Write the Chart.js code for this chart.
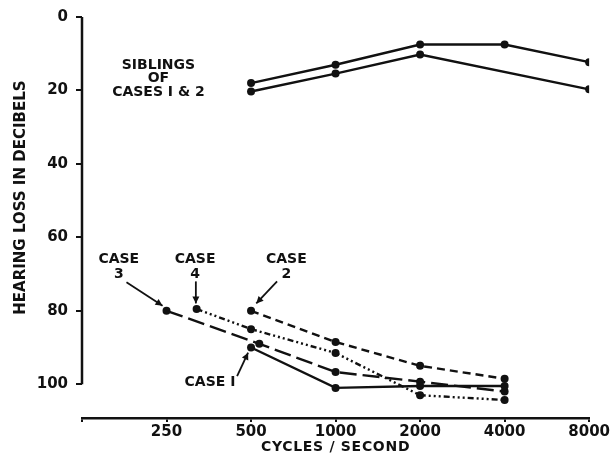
<!DOCTYPE html>
<html>
<head>
<meta charset="utf-8">
<script src="https://cdn.jsdelivr.net/npm/chart.js@4"></script>
<style>
html,body{margin:0;padding:0;background:#fff;}
#c{display:block;}
</style>
</head>
<body>
<canvas id="c" width="611" height="453"></canvas>
<script>
// ---- data ----
const freqTicks = [125, 250, 500, 1000, 2000, 4000, 8000];
const dbTicks = [0, 20, 40, 60, 80, 100];

const siblingUpperFreq = [500, 1000, 2000, 4000, 8000];
const siblingUpperDb   = [18, 13, 7.5, 7.5, 12.3];
const siblingLowerFreq = [500, 1000, 2000, 8000];
const siblingLowerDb   = [20.3, 15.4, 10.2, 19.7];

const case1Freq = [500, 1000, 2000, 4000];
const case1Db   = [90, 101, 100.5, 100.5];
const case2Freq = [500, 1000, 2000, 4000];
const case2Db   = [80, 88.5, 95, 98.5];
const case3Freq = [250, 535, 1000, 2000, 4000];
const case3Db   = [80, 89, 96.7, 99.3, 102];
const case4Freq = [320, 500, 1000, 2000, 4000];
const case4Db   = [79.5, 85, 91.5, 103, 104.3];

// annotation texts (positions in data units: freq, dB)
const xTitle = 'CYCLES / SECOND';
const yTitle = 'HEARING LOSS IN DECIBELS';
const siblingsText = ['SIBLINGS', 'OF', 'CASES I & 2'];
const siblingsAt = [234, [13.2, 16.8, 20.4]];
const caseLabels = [
  {lines: ['CASE', '3'], at: [169, 66], arrowFrom: [180, 72.2], arrowTo: [242, 78.6]},
  {lines: ['CASE', '4'], at: [316, 66], arrowFrom: [318, 72], arrowTo: [318, 78]},
  {lines: ['CASE', '2'], at: [668, 66], arrowFrom: [619, 72], arrowTo: [522, 78]},
  {lines: ['CASE I'], at: [357, 99.6], arrowFrom: [446, 97.8], arrowTo: [488, 91.4]}
];

const FONT = '"DejaVu Sans", "Liberation Sans", sans-serif';
const INK = '#111';

function pts(fs, ds) { return fs.map((f, i) => ({x: f, y: ds[i]})); }
function ds(label, fs, vals, dash) {
  return {
    label, data: pts(fs, vals), borderColor: INK, backgroundColor: INK,
    borderWidth: 2.4, borderDash: dash, pointRadius: 4, pointBackgroundColor: INK,
    pointBorderWidth: 0, tension: 0, fill: false
  };
}

function arrow(ctx, x1, y1, x2, y2) {
  ctx.beginPath(); ctx.moveTo(x1, y1); ctx.lineTo(x2, y2); ctx.stroke();
  const a = Math.atan2(y2 - y1, x2 - x1), L = 7, W = 3.5;
  ctx.beginPath();
  ctx.moveTo(x2, y2);
  ctx.lineTo(x2 - L * Math.cos(a) + W * Math.sin(a), y2 - L * Math.sin(a) - W * Math.cos(a));
  ctx.lineTo(x2 - L * Math.cos(a) - W * Math.sin(a), y2 - L * Math.sin(a) + W * Math.cos(a));
  ctx.closePath(); ctx.fill();
}

const deco = {
  id: 'deco',
  afterDraw(chart) {
    const {ctx, scales: {x, y}, chartArea} = chart;
    ctx.save();
    ctx.strokeStyle = INK; ctx.fillStyle = INK; ctx.lineWidth = 2.5;
    // vertical axis line from 0 to 100 dB
    ctx.beginPath();
    ctx.moveTo(chartArea.left, y.getPixelForValue(dbTicks[0]));
    ctx.lineTo(chartArea.left, y.getPixelForValue(dbTicks[dbTicks.length - 1]));
    ctx.stroke();
    ctx.textAlign = 'center'; ctx.textBaseline = 'middle';
    // y title
    ctx.save();
    ctx.translate(21, (y.getPixelForValue(0) + y.getPixelForValue(100)) / 2 - 3);
    ctx.rotate(-Math.PI / 2);
    ctx.font = 'bold 15px ' + FONT;
    ctx.fillText(yTitle, 0, 0);
    ctx.restore();
    // x title
    ctx.save();
    ctx.font = 'bold 14px ' + FONT;
    try { ctx.letterSpacing = '0.7px'; } catch (e) {}
    ctx.fillText(xTitle, (chartArea.left + chartArea.right) / 2, 447);
    ctx.restore();
    // siblings text
    ctx.font = 'bold 14px ' + FONT;
    const sx = x.getPixelForValue(siblingsAt[0]);
    siblingsAt[1].forEach((d, i) => ctx.fillText(siblingsText[i], sx, y.getPixelForValue(d)));
    // case labels and arrows
    ctx.font = 'bold 14px ' + FONT;
    ctx.lineWidth = 1.8;
    caseLabels.forEach(c => {
      const cx = x.getPixelForValue(c.at[0]);
      c.lines.forEach((t, i) => ctx.fillText(t, cx, y.getPixelForValue(c.at[1]) + i * 15));
      arrow(ctx, x.getPixelForValue(c.arrowFrom[0]), y.getPixelForValue(c.arrowFrom[1]),
                 x.getPixelForValue(c.arrowTo[0]), y.getPixelForValue(c.arrowTo[1]));
    });
    ctx.restore();
  }
};

new Chart(document.getElementById('c'), {
  type: 'line',
  data: {
    datasets: [
      ds('Siblings upper', siblingUpperFreq, siblingUpperDb, []),
      ds('Siblings lower', siblingLowerFreq, siblingLowerDb, []),
      ds('Case 1', case1Freq, case1Db, []),
      ds('Case 2', case2Freq, case2Db, [8, 5]),
      ds('Case 3', case3Freq, case3Db, [17, 6]),
      ds('Case 4', case4Freq, case4Db, [6, 3, 2, 3, 2, 3, 2, 3])
    ]
  },
  options: {
    responsive: false,
    animation: false,
    events: [],
    layout: {padding: {top: 15, right: 19, left: 0, bottom: 0}},
    plugins: {legend: {display: false}, tooltip: {enabled: false}},
    scales: {
      x: {
        type: 'logarithmic', min: 125, max: 8000,
        afterBuildTicks: s => { s.ticks = freqTicks.map(v => ({value: v})); },
        afterFit: s => { s.height = 35; },
        border: {display: true, color: INK, width: 2.5},
        grid: {display: true, drawOnChartArea: false, drawTicks: true, tickLength: 4, color: INK, lineWidth: 2},
        ticks: {
          autoSkip: false, maxRotation: 0, padding: 1, color: INK,
          font: {family: FONT, size: 15, weight: 'bold'},
          callback: v => (v === freqTicks[0] ? '' : String(v))
        }
      },
      y: {
        type: 'linear', reverse: true, min: 0, max: 109.2,
        afterBuildTicks: s => { s.ticks = dbTicks.map(v => ({value: v})); },
        afterFit: s => { s.width = 82; },
        border: {display: false},
        grid: {display: true, drawOnChartArea: false, drawTicks: true, tickLength: 6, color: INK, lineWidth: 2},
        ticks: {
          padding: 8, color: INK,
          font: {family: FONT, size: 15, weight: 'bold'},
          callback: v => String(v)
        }
      }
    }
  },
  plugins: [deco]
});
</script>
</body>
</html>
